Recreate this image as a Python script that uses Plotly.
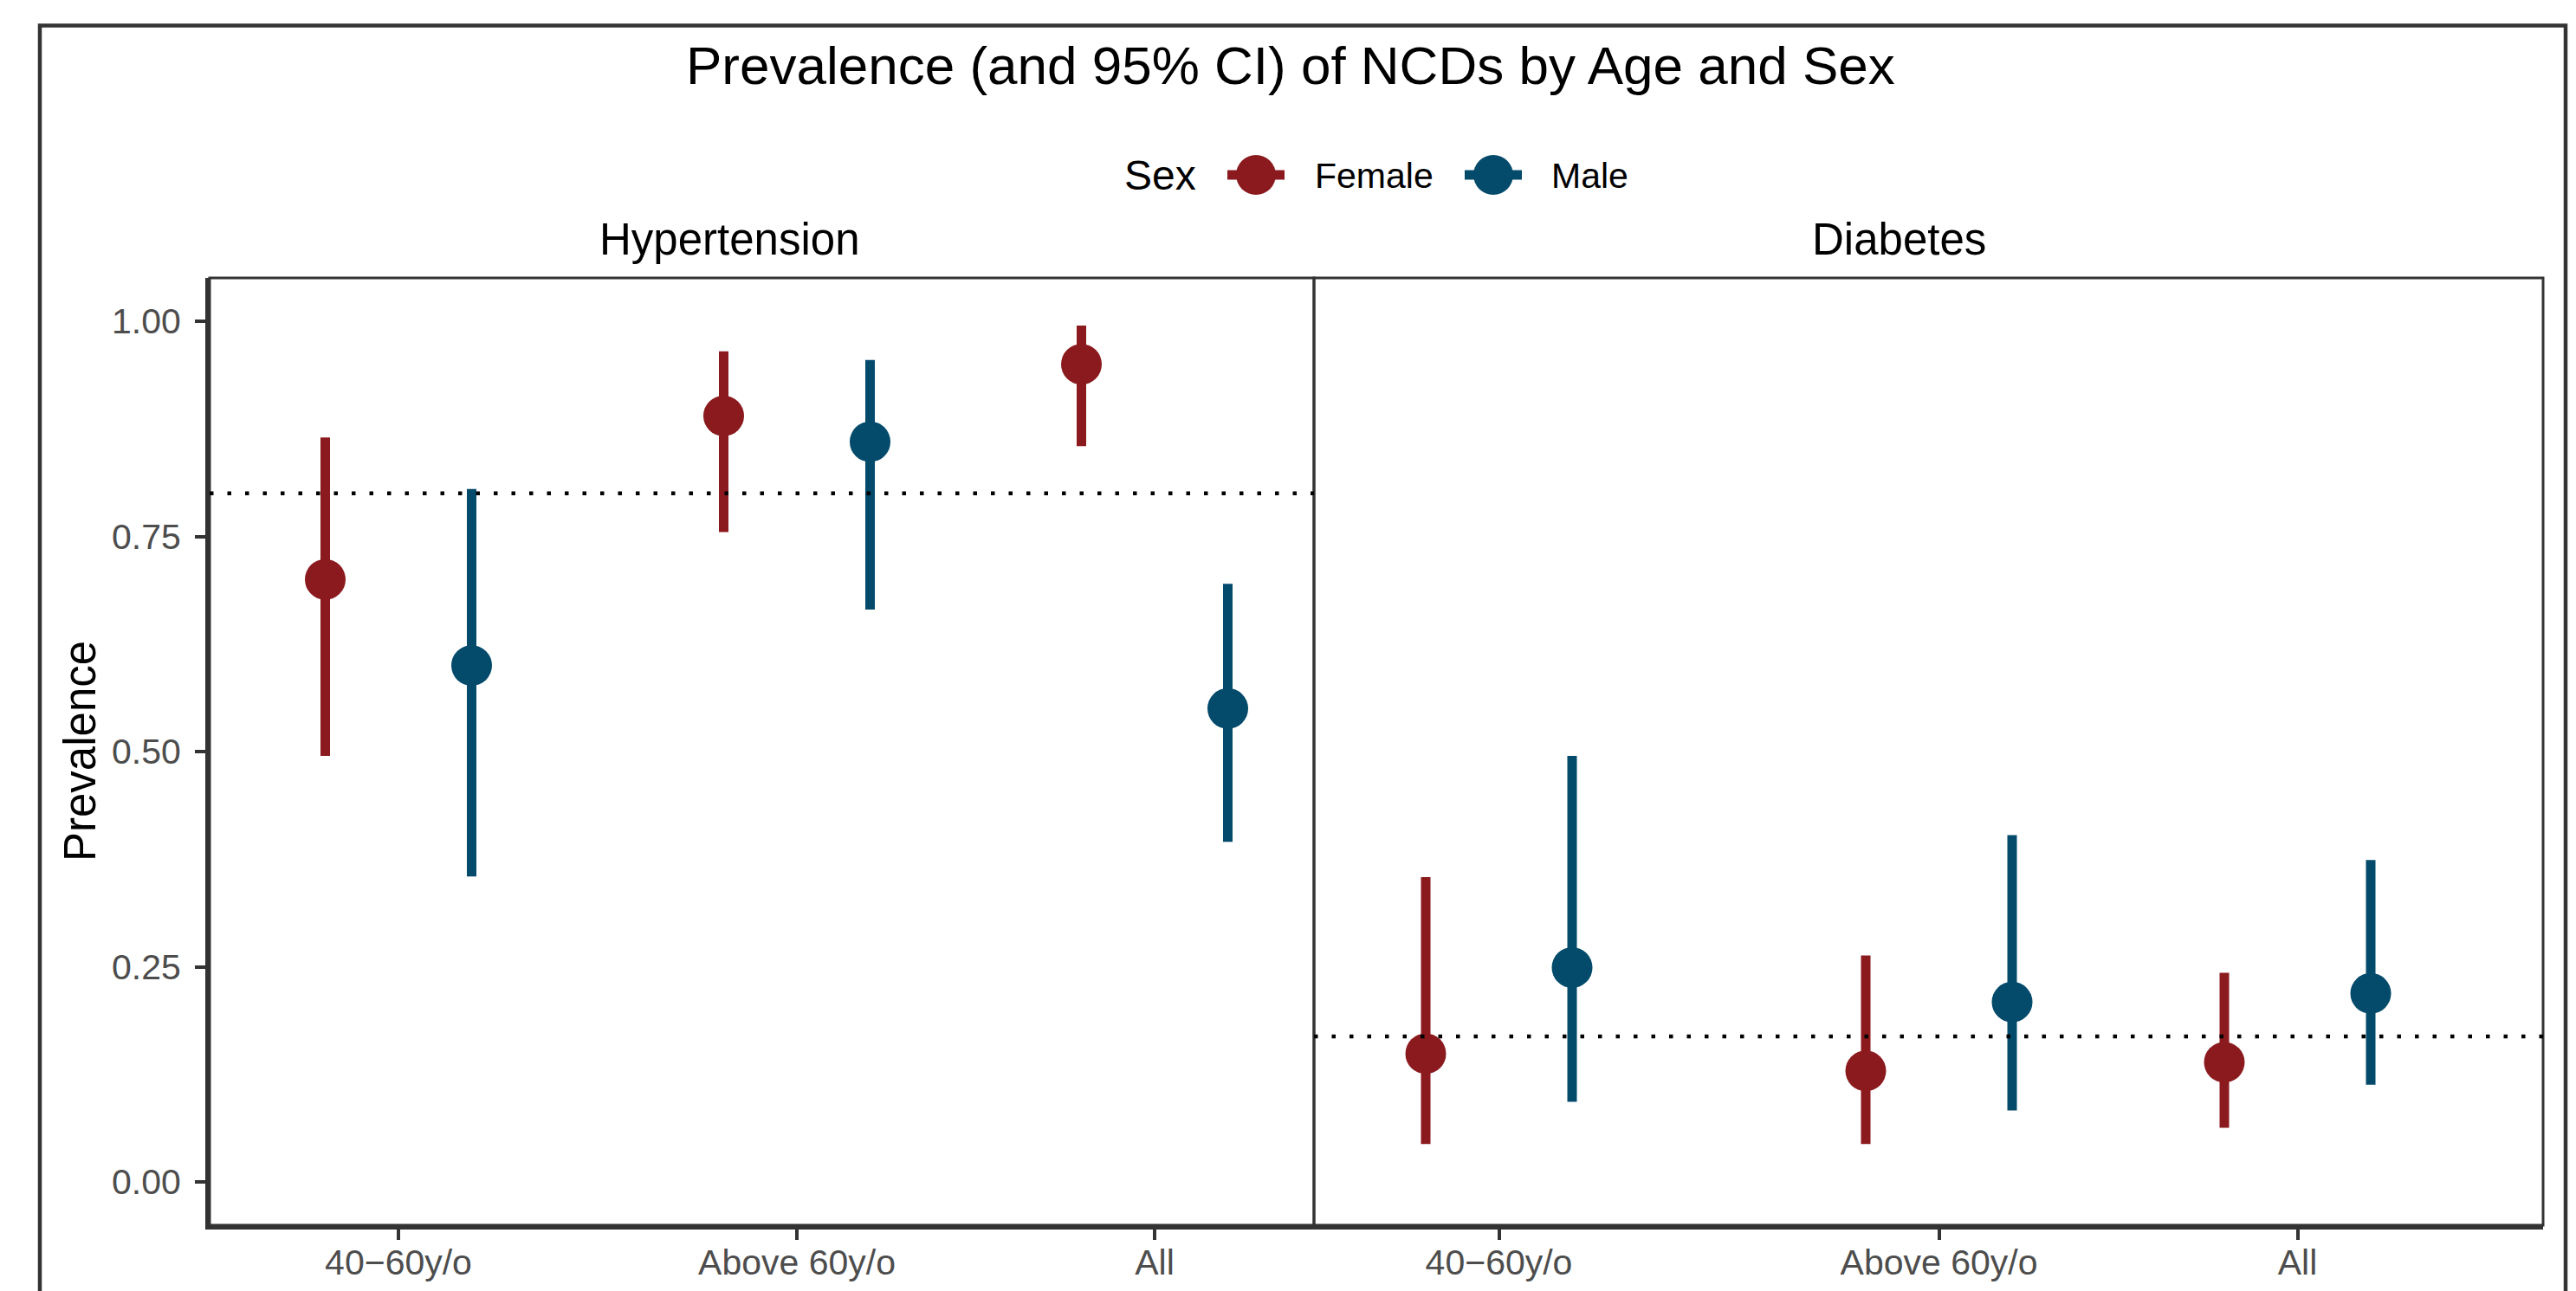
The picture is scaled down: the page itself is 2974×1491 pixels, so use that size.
import numpy as np
import plotly.graph_objects as go

# ---------------- data ----------------
conditions = ["Hypertension", "Diabetes"]
age_groups = ["40\u221260y/o", "Above 60y/o", "All"]
sexes = ["Female", "Male"]

hyp_female_est = [0.700, 0.890, 0.950]
hyp_female_lo = [0.495, 0.755, 0.855]
hyp_female_hi = [0.865, 0.965, 0.995]

hyp_male_est = [0.600, 0.860, 0.550]
hyp_male_lo = [0.355, 0.665, 0.395]
hyp_male_hi = [0.805, 0.955, 0.695]

dia_female_est = [0.149, 0.129, 0.139]
dia_female_lo = [0.044, 0.044, 0.063]
dia_female_hi = [0.354, 0.263, 0.243]

dia_male_est = [0.249, 0.209, 0.219]
dia_male_lo = [0.093, 0.083, 0.113]
dia_male_hi = [0.495, 0.403, 0.374]

reference_levels = [0.80, 0.169]

y_ticks = [0.00, 0.25, 0.50, 0.75, 1.00]

# ---------------- layout / style constants ----------------
W, H = 2974, 1491
colors = {"Female": "#8B1A1E", "Male": "#034A6B"}
FONT = "Liberation Sans, Arial, Helvetica, sans-serif"
DARK = "#333333"
TICK_TXT = "#4D4D4D"

panel_px = [(242, 1517), (1517, 2936)]          # panel left/right edges (px)
panel_top_px, panel_bot_px = 321, 1415
cat_pos_px = [[218, 678, 1091], [213.5, 721.5, 1135.5]]  # category centres within each panel
dodge_px = 84.5
y_range = [-0.0503, 1.0503]

series = {
    ("Hypertension", "Female"): (hyp_female_est, hyp_female_lo, hyp_female_hi),
    ("Hypertension", "Male"): (hyp_male_est, hyp_male_lo, hyp_male_hi),
    ("Diabetes", "Female"): (dia_female_est, dia_female_lo, dia_female_hi),
    ("Diabetes", "Male"): (dia_male_est, dia_male_lo, dia_male_hi),
}

fig = go.Figure()

for pi, cond in enumerate(conditions):
    xa = "x" if pi == 0 else "x2"
    ya = "y" if pi == 0 else "y2"
    for si, sex in enumerate(sexes):
        est, lo, hi = (np.array(v, dtype=float) for v in series[(cond, sex)])
        off = -dodge_px if sex == "Female" else dodge_px
        xs = np.array(cat_pos_px[pi]) + off
        fig.add_trace(go.Scatter(
            x=xs, y=est, mode="markers", xaxis=xa, yaxis=ya, name=sex,
            marker=dict(size=47, color=colors[sex], line=dict(width=0)),
            error_y=dict(type="data", symmetric=False, array=hi - est,
                         arrayminus=est - lo, color=colors[sex],
                         thickness=11, width=0),
            showlegend=False, cliponaxis=False,
            hovertext=[f"{cond} | {a} | {sex}" for a in age_groups],
        ))

def px_x(p):
    return p / W

def px_y(p):
    return 1 - p / H

ydom = [px_y(panel_bot_px), px_y(panel_top_px)]

axis_common = dict(showgrid=False, zeroline=False, ticks="outside", ticklen=12,
                   tickwidth=4, tickcolor=DARK,
                   tickfont=dict(family=FONT, size=41, color=TICK_TXT))

fig.update_layout(
    width=W, height=H, autosize=False,
    margin=dict(l=0, r=0, t=0, b=0, pad=0),
    paper_bgcolor="white", plot_bgcolor="white",
    showlegend=False,
    font=dict(family=FONT, color="black"),
    xaxis=dict(domain=[px_x(panel_px[0][0]), px_x(panel_px[0][1])],
               range=[0, panel_px[0][1] - panel_px[0][0]], anchor="y",
               tickvals=cat_pos_px[0], ticktext=age_groups,
               showline=True, linewidth=5, linecolor=DARK,
               ticklabelstandoff=-9, **axis_common),
    xaxis2=dict(domain=[px_x(panel_px[1][0]), px_x(panel_px[1][1])],
                range=[0, panel_px[1][1] - panel_px[1][0]], anchor="y2",
                tickvals=cat_pos_px[1], ticktext=age_groups,
                showline=True, linewidth=5, linecolor=DARK,
                ticklabelstandoff=-9, **axis_common),
    yaxis=dict(domain=ydom, range=y_range, anchor="x",
               tickvals=y_ticks, ticktext=[f"{v:.2f}" for v in y_ticks],
               showline=True, linewidth=5, linecolor=DARK,
               ticklabelstandoff=8, **axis_common),
    yaxis2=dict(domain=ydom, range=y_range, anchor="x2", matches="y",
                showticklabels=False, ticks="", showgrid=False, zeroline=False,
                showline=False),
)

shapes = []
# panel borders
for xa, ya in (("x", "y"), ("x2", "y2")):
    shapes.append(dict(type="rect", xref=f"{xa} domain", yref=f"{ya} domain",
                       x0=0, x1=1, y0=0, y1=1, line=dict(color=DARK, width=3),
                       layer="above"))
# dotted reference lines
for pi, lvl in enumerate(reference_levels):
    xa = "x" if pi == 0 else "x2"
    ya = "y" if pi == 0 else "y2"
    shapes.append(dict(type="line", xref=f"{xa} domain", yref=ya, x0=0, x1=1,
                       y0=lvl, y1=lvl, line=dict(color="black", width=4.5,
                                                 dash="4.5px,16px"),
                       layer="above"))
# outer frame (bottom edge is outside the picture)
shapes.append(dict(type="rect", xref="paper", yref="paper",
                   x0=px_x(46), x1=px_x(2962), y0=-0.2, y1=px_y(29.5),
                   line=dict(color=DARK, width=4.5), layer="above"))

# manual legend keys
legend_keys = {"Female": 1450, "Male": 1724}
leg_y = 202
for sex in sexes:
    cx = legend_keys[sex]
    shapes.append(dict(type="line", xref="paper", yref="paper",
                       x0=px_x(cx - 33), x1=px_x(cx + 33), y0=px_y(leg_y), y1=px_y(leg_y),
                       line=dict(color=colors[sex], width=11)))
    shapes.append(dict(type="circle", xref="paper", yref="paper",
                       x0=px_x(cx - 23), x1=px_x(cx + 23),
                       y0=px_y(leg_y + 23), y1=px_y(leg_y - 23),
                       fillcolor=colors[sex], line=dict(width=0)))

fig.update_layout(shapes=shapes)

annotations = [
    dict(text="Prevalence (and 95% CI) of NCDs by Age and Sex", x=px_x(1490), y=px_y(75),
         xref="paper", yref="paper", xanchor="center", yanchor="middle",
         showarrow=False, font=dict(family=FONT, size=62, color="black")),
    dict(text="Sex", x=px_x(1296), y=px_y(203), xref="paper", yref="paper",
         xanchor="left", yanchor="middle", showarrow=False,
         font=dict(family=FONT, size=48, color="black")),
    dict(text="Female", x=px_x(1516), y=px_y(203), xref="paper", yref="paper",
         xanchor="left", yanchor="middle", showarrow=False,
         font=dict(family=FONT, size=41, color="black")),
    dict(text="Male", x=px_x(1789), y=px_y(203), xref="paper", yref="paper",
         xanchor="left", yanchor="middle", showarrow=False,
         font=dict(family=FONT, size=41, color="black")),
    dict(text="Prevalence", x=px_x(92), y=px_y(868), xref="paper", yref="paper",
         xanchor="center", yanchor="middle", textangle=-90, showarrow=False,
         font=dict(family=FONT, size=51, color="black")),
]
strip_x = [842, 2192]
for cond, sx in zip(conditions, strip_x):
    annotations.append(dict(text=cond, x=px_x(sx), y=px_y(276), xref="paper", yref="paper",
                            xanchor="center", yanchor="middle", showarrow=False,
                            font=dict(family=FONT, size=51, color="black")))
fig.update_layout(annotations=annotations)

fig.write_html("out.html", config={"displayModeBar": False},
               post_script="document.body.style.margin='0';document.body.style.overflow='hidden';")
